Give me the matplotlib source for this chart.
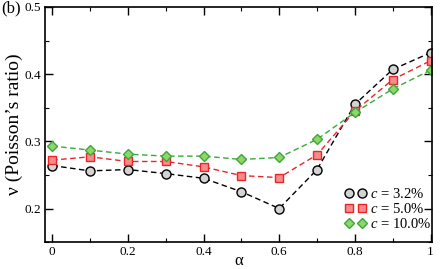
import matplotlib
matplotlib.use("Agg")
import matplotlib.pyplot as plt
from matplotlib.lines import Line2D
from matplotlib.ticker import MultipleLocator

alpha = [0.0, 0.1, 0.2, 0.3, 0.4, 0.5, 0.6, 0.7, 0.8, 0.9, 1.0]
nu_c32 = [0.264, 0.256, 0.258, 0.252, 0.245, 0.225, 0.200, 0.258, 0.355, 0.407, 0.432]
nu_c50 = [0.272, 0.277, 0.270, 0.270, 0.262, 0.249, 0.246, 0.280, 0.345, 0.392, 0.420]
nu_c100 = [0.293, 0.287, 0.281, 0.278, 0.278, 0.273, 0.276, 0.303, 0.343, 0.378, 0.406]
labels = ["$c$ = 3.2%", "$c$ = 5.0%", "$c$ = 10.0%"]

plt.rcParams["font.family"] = "Liberation Serif"
plt.rcParams["mathtext.fontset"] = "custom"
plt.rcParams["mathtext.it"] = "Liberation Serif:italic"
plt.rcParams["mathtext.rm"] = "Liberation Serif"

fig = plt.figure(figsize=(4.4, 2.69), dpi=100)
ax = fig.add_axes([0.103, 0.100, 0.879, 0.874])

styles = [
    dict(color="black", marker="o", mfc="#d3d3d3", mec="black", ms=6.5),
    dict(color="#e8262a", marker="s", mfc="#f88a8a", mec="#e8262a", ms=6),
    dict(color="#3aa83a", marker="D", mfc="#8fd66a", mec="#3aa83a", ms=5),
]
handles = []
for ys, lab, st in zip([nu_c32, nu_c50, nu_c100], labels, styles):
    ax.plot(alpha, ys, ls=(0, (4, 2.5)), lw=1.0, mew=1.0, **st)
    handles.append(Line2D([], [], ls="none", mew=1.0, label=lab, **st))

ax.set_xlim(-0.018, 1.004)
ax.set_ylim(0.15, 0.5)
ax.xaxis.set_minor_locator(MultipleLocator(0.1))
ax.yaxis.set_minor_locator(MultipleLocator(0.05))
ax.set_xticks([0, 0.2, 0.4, 0.6, 0.8, 1.0])
ax.set_xticklabels(["0", "0.2", "0.4", "0.6", "0.8", "1"])
ax.set_yticks([0.2, 0.3, 0.4, 0.5])
ax.set_yticklabels(["0.2", "0.3", "0.4", "0.5"])
ax.tick_params(which="both", direction="in", top=True, right=True, labelsize=9.5)
ax.tick_params(which="major", length=6, width=1, pad=3)
ax.tick_params(which="minor", length=3, width=0.8)
for sp in ax.spines.values():
    sp.set_linewidth(1.2)

ax.set_xlabel("α", fontsize=12, labelpad=-4)
ax.set_ylabel("ν (Poisson’s ratio)", fontsize=14, labelpad=1)
fig.text(0.003, 0.968, "(b)", fontsize=12, va="center", ha="left")

ax.legend(handles=handles, loc="lower right", bbox_to_anchor=(1.005, 0.035),
          numpoints=2, frameon=False, fontsize=10.5,
          handlelength=1.5, handletextpad=0.2, labelspacing=0.05,
          borderaxespad=0.0, borderpad=0.2)

fig.savefig("out.png", dpi=100)
